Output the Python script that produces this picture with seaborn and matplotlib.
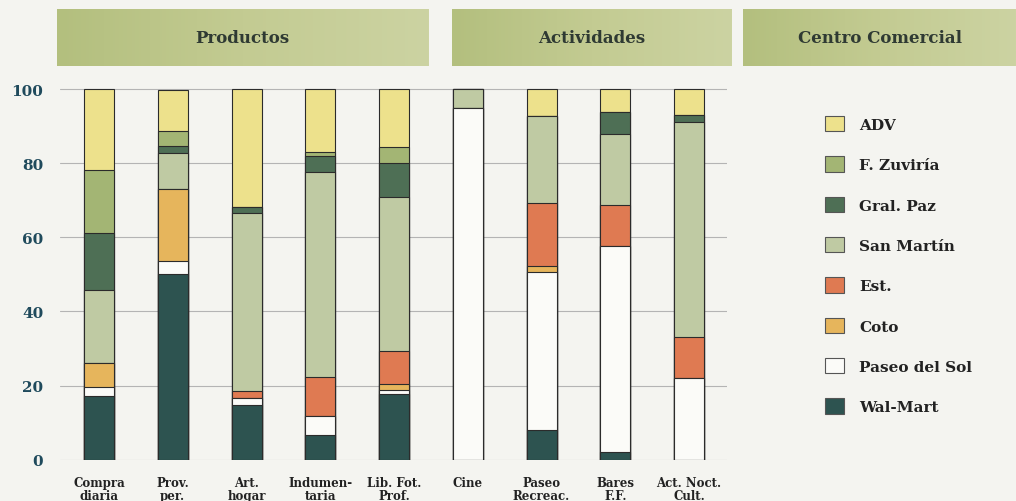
import numpy as np
import pandas as pd
import matplotlib
matplotlib.use("Agg")
import matplotlib.pyplot as plt
import seaborn as sns
from matplotlib.patches import Patch
from matplotlib.colors import LinearSegmentedColormap

# ---------------- data ----------------
categories = ["Compra\ndiaria", "Prov.\nper.", "Art.\nhogar", "Indumen-\ntaria",
              "Lib. Fot.\nProf.", "Cine", "Paseo\nRecreac.", "Bares\nF.F.",
              "Act. Noct.\nCult."]
# stacking order: bottom -> top
series_names = ["Wal-Mart", "Paseo del Sol", "Coto", "Est.", "San Martín",
                "Gral. Paz", "F. Zuviría", "ADV"]
wal_mart      = [17.3, 50.2, 14.8, 6.7, 17.6, 0.0, 8.0, 2.0, 0.0]
paseo_del_sol = [2.2, 3.3, 1.8, 5.2, 1.2, 94.9, 42.7, 55.6, 22.0]
coto          = [6.5, 19.5, 0.0, 0.0, 1.6, 0.0, 1.6, 0.0, 0.0]
est           = [0.0, 0.0, 2.0, 10.5, 9.0, 0.0, 16.9, 11.1, 11.2]
san_martin    = [19.8, 9.7, 47.9, 55.3, 41.5, 5.1, 23.4, 19.2, 57.8]
gral_paz      = [15.4, 1.8, 1.6, 4.3, 9.1, 0.0, 0.0, 5.8, 2.1]
f_zuviria     = [16.9, 4.3, 0.0, 1.1, 4.3, 0.0, 0.0, 0.0, 0.0]
adv           = [21.9, 11.0, 31.9, 16.9, 15.7, 0.0, 7.4, 6.3, 6.9]
y_ticks = [0, 20, 40, 60, 80, 100]
header_labels = ["Productos", "Actividades", "Centro Comercial"]

series_values = [wal_mart, paseo_del_sol, coto, est, san_martin, gral_paz, f_zuviria, adv]
colors = ["#2d5350", "#fbfbf8", "#e6b55c", "#df7a52", "#bfcaa3",
          "#4e6f55", "#a3b574", "#ede18c"]

# ---------------- figure ----------------
sns.set_theme(style="white")
FONT = ["DejaVu Serif"]
plt.rcParams["font.family"] = FONT
bg = "#f4f4f0"
fig = plt.figure(figsize=(10.16, 5.02), dpi=100, facecolor=bg)
W, H = 1016, 502

ax = fig.add_axes([60 / W, (H - 460.7) / H, 667 / W, (460.7 - 84.45) / H])
ax.set_facecolor(bg)

# cumulative stacks, drawn from the top series down so lower ones overlay
cum = np.cumsum(np.array(series_values), axis=0)
for i in range(len(series_names) - 1, -1, -1):
    df = pd.DataFrame({"cat": categories, "val": cum[i]})
    sns.barplot(data=df, x="cat", y="val", order=categories, color=colors[i],
                saturation=1, width=0.407, edgecolor="#2b2b2b", linewidth=0.8,
                ax=ax, zorder=3)

ax.set_xlim(-0.529, 8.515)
ax.set_ylim(0, 101.5)
ax.set_yticks(y_ticks)
ax.set_yticklabels([str(t) for t in y_ticks], fontsize=11, fontweight="bold",
                   color="#1f4a5c")
ax.tick_params(axis="y", length=0, pad=12)
ax.tick_params(axis="x", length=0, pad=12)
for lab in ax.get_xticklabels():
    lab.set_fontsize(8.5)
    lab.set_fontweight("bold")
    lab.set_color("#222222")
    lab.set_linespacing(0.95)
    lab.set_verticalalignment("top")
ax.set_xlabel("")
ax.set_ylabel("")
for s in ax.spines.values():
    s.set_visible(False)
ax.yaxis.grid(True, color="#b4b4b4", linewidth=0.8)
ax.set_axisbelow(True)

# legend (top -> bottom: ADV ... Wal-Mart)
handles = [Patch(facecolor=colors[i], edgecolor="#555555", linewidth=0.8)
           for i in range(len(series_names) - 1, -1, -1)]
labels = [series_names[i] for i in range(len(series_names) - 1, -1, -1)]
fs = 11
fig.legend(handles, labels, loc="upper left",
           bbox_to_anchor=(825 / W, 1 - 117 / H), frameon=False,
           borderpad=0, borderaxespad=0, handlelength=1.24, handleheight=1.18,
           handletextpad=1.0, labelspacing=1.6,
           prop={"family": FONT, "weight": "bold", "size": fs},
           labelcolor="#222222")

# header boxes with a soft gradient
boxes = [(57, 428), (452, 732), (743, 1016)]
grad = np.linspace(0, 1, 256)[None, :]
cmap = LinearSegmentedColormap.from_list("hdr", ["#b3bf7e", "#c3cb92", "#ccd3a2"])
for (x0, x1), text in zip(boxes, header_labels):
    hax = fig.add_axes([x0 / W, (H - 67) / H, (x1 - x0) / W, 57 / H])
    hax.imshow(grad, aspect="auto", cmap=cmap, extent=[0, 1, 0, 1])
    hax.set_axis_off()
    hax.text(0.5, 0.5, text, ha="center", va="center", fontsize=12,
             fontweight="bold", color="#2f3a33", transform=hax.transAxes)

fig.savefig("out.png", dpi=100, facecolor=bg)
